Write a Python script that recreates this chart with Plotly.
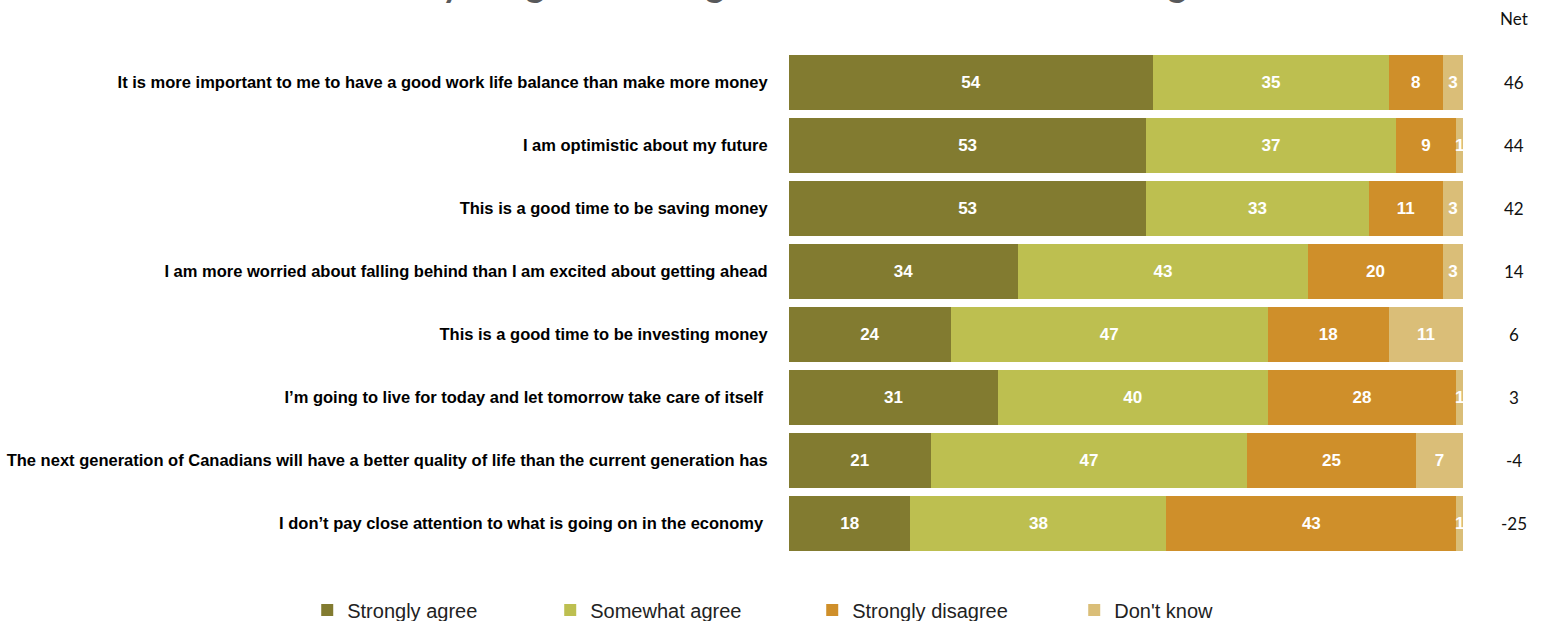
import plotly.graph_objects as go

statements = [
    "It is more important to me to have a good work life balance than make more money",
    "I am optimistic about my future",
    "This is a good time to be saving money",
    "I am more worried about falling behind than I am excited about getting ahead",
    "This is a good time to be investing money",
    "I\u2019m going to live for today and let tomorrow take care of itself ",
    "The next generation of Canadians will have a better quality of life than the current generation has",
    "I don\u2019t pay close attention to what is going on in the economy ",
]
strongly_agree = [54, 53, 53, 34, 24, 31, 21, 18]
somewhat_agree = [35, 37, 33, 43, 47, 40, 47, 38]
strongly_disagree = [8, 9, 11, 20, 18, 28, 25, 43]
dont_know = [3, 1, 3, 3, 11, 1, 7, 1]
net = [46, 44, 42, 14, 6, 3, -4, -25]

series = [
    ("Strongly agree", strongly_agree, "#827B30", 198),
    ("Somewhat agree", somewhat_agree, "#BDBF50", 217),
    ("Strongly disagree", strongly_disagree, "#CF8F2A", 217),
    ("Don't know", dont_know, "#DABE78", 140),
]

fig = go.Figure()
for name, vals, color, lw in series:
    fig.add_trace(go.Bar(
        y=statements, x=vals, name=name, orientation="h",
        marker=dict(color=color, line=dict(width=0)),
        text=vals, textposition="inside", insidetextanchor="middle",
        textfont=dict(family="Liberation Sans, Arial", size=17, color="white", weight="bold"),
        cliponaxis=False, legendwidth=lw,
    ))

# net score column on the right
for s, n in zip(statements, net):
    fig.add_annotation(x=1.075, xref="paper", y=s, yref="y", text=str(n), showarrow=False,
                       font=dict(family="Lato, sans-serif", size=17, color="#111"), xanchor="center")
fig.add_annotation(x=1.075, xref="paper", y=1, yref="paper", yshift=33, text="Net", showarrow=False,
                   font=dict(family="Lato, sans-serif", size=17, color="#111"), xanchor="center",
                   yanchor="middle")

# headline
fig.add_annotation(x=-0.2463, xref="paper", xanchor="center", y=1, yref="paper", yanchor="bottom",
                   yshift=45,
                   text="<b>Please tell me how much you agree or disagree with each of the following:</b>",
                   showarrow=False, font=dict(family="Lato, sans-serif", size=35, color="#58595B"))

fig.update_layout(
    barmode="stack",
    bargap=0.13,
    width=1544, height=621,
    margin=dict(l=789, r=81, t=51, b=66, autoexpand=False),
    plot_bgcolor="white", paper_bgcolor="white",
    uniformtext=dict(minsize=17, mode="show"),
    xaxis=dict(range=[0, 100], visible=False, fixedrange=True),
    yaxis=dict(autorange="reversed", showgrid=False, zeroline=False, showline=False,
               ticks="outside", ticklen=17, tickcolor="rgba(0,0,0,0)",
               tickfont=dict(family="Liberation Sans, Arial", size=16.5, color="#000", weight="bold")),
    legend=dict(orientation="h", x=-0.7148, xanchor="left", y=-0.109, yanchor="middle",
                font=dict(family="Liberation Sans, Arial", size=20, color="#222"),
                itemwidth=30, traceorder="normal"),
    showlegend=True,
)

fig.write_html("out.html")
